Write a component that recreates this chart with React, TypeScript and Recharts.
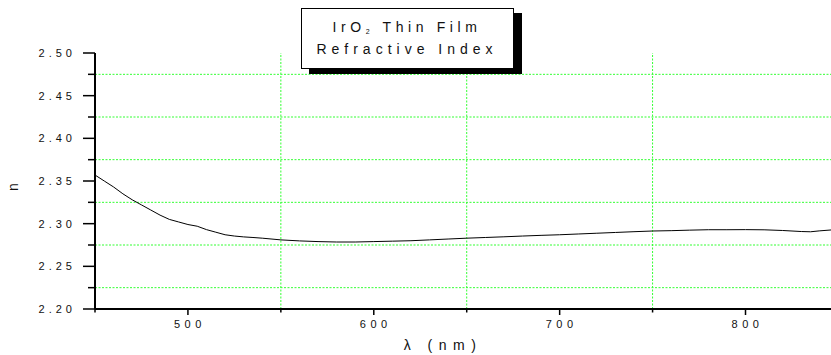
import React from 'react';
import { LineChart, Line, XAxis, YAxis, ReferenceLine } from 'recharts';

// wavelength (nm)
const wavelengths = [
  450, 455, 460, 465, 470, 475, 480, 485, 490, 495, 500, 505, 510, 515, 520, 525, 530, 535, 540,
  550, 560, 570, 580, 590, 600, 610, 620, 630, 640, 650, 660, 670, 680, 690, 700, 710, 720, 730,
  740, 750, 760, 770, 780, 790, 800, 810, 820, 830, 835, 840, 846,
];
// refractive index n
const refractiveIndex = [
  2.357, 2.35, 2.343, 2.335, 2.328, 2.322, 2.316, 2.31, 2.305, 2.302, 2.299, 2.297, 2.293, 2.29,
  2.287, 2.2855, 2.2845, 2.2838, 2.283, 2.281, 2.2798, 2.279, 2.2785, 2.2785, 2.279, 2.2795, 2.28,
  2.281, 2.282, 2.283, 2.2838, 2.2846, 2.2855, 2.2863, 2.287, 2.2879, 2.2888, 2.2897, 2.2906,
  2.2914, 2.2918, 2.2924, 2.2929, 2.2929, 2.293, 2.2928, 2.292, 2.2908, 2.2905, 2.2916, 2.2926,
];

const xTicks = [450, 500, 550, 600, 650, 700, 750, 800];
const xMajorTicks = [500, 600, 700, 800];
const yTicks = [2.2, 2.225, 2.25, 2.275, 2.3, 2.325, 2.35, 2.375, 2.4, 2.425, 2.45, 2.475, 2.5];
const yMajorTicks = [2.2, 2.25, 2.3, 2.35, 2.4, 2.45, 2.5];
const xGridValues = [550, 650, 750];
const yGridValues = [2.225, 2.275, 2.325, 2.375, 2.425, 2.475];

const data = wavelengths.map((w, i) => ({ w, n: refractiveIndex[i] }));

const FONT = '"Liberation Sans", Arial, Helvetica, sans-serif';
const GRID = '#33ff33';

const isMajorY = (v: number) => yMajorTicks.some((m) => Math.abs(m - v) < 1e-6);
const isMajorX = (v: number) => xMajorTicks.includes(v);

const YTick = (props: any) => {
  const { x, y, payload } = props;
  const v = payload.value as number;
  const major = isMajorY(v);
  return (
    <g>
      <line x1={x - (major ? 12 : 7)} x2={x} y1={y} y2={y} stroke="#000" strokeWidth={1.5} />
      {major && (
        <text
          x={x - 19}
          y={y + 4}
          textAnchor="end"
          fontFamily={FONT}
          fontSize={11}
          fill="#111"
          style={{ letterSpacing: 4 }}
        >
          {v.toFixed(2)}
        </text>
      )}
    </g>
  );
};

const XTick = (props: any) => {
  const { x, y, payload } = props;
  const v = payload.value as number;
  const major = isMajorX(v);
  return (
    <g>
      <line x1={x} x2={x} y1={y} y2={y + (major ? 6 : 3.5)} stroke="#000" strokeWidth={1.5} />
      {major && (
        <text
          x={x + 2}
          y={y + 19}
          textAnchor="middle"
          fontFamily={FONT}
          fontSize={11}
          fill="#111"
          style={{ letterSpacing: 4.5 }}
        >
          {v}
        </text>
      )}
    </g>
  );
};

export default function App() {
  return (
    <div style={{ position: 'absolute', left: 0, top: 0, width: 831, height: 355, background: '#fff' }}>
      <LineChart width={831} height={355} data={data} margin={{ top: 53, right: 0, bottom: 0, left: 0 }}>
        {yGridValues.map((v) => (
          <ReferenceLine key={'y' + v} y={v} stroke={GRID} strokeDasharray="2 1.5" strokeWidth={1} />
        ))}
        {xGridValues.map((v) => (
          <ReferenceLine key={'x' + v} x={v} stroke={GRID} strokeDasharray="2 1.5" strokeWidth={1} />
        ))}
        <XAxis
          dataKey="w"
          type="number"
          domain={[450, 846]}
          ticks={xTicks}
          interval={0}
          allowDataOverflow
          height={46}
          tickSize={0}
          tickMargin={0}
          tickLine={false}
          axisLine={{ stroke: '#000', strokeWidth: 2 }}
          tick={(p: any) => <XTick {...p} />}
        />
        <YAxis
          type="number"
          domain={[2.2, 2.5]}
          ticks={yTicks}
          interval={0}
          allowDataOverflow
          width={95}
          tickSize={0}
          tickMargin={0}
          tickLine={false}
          axisLine={{ stroke: '#000', strokeWidth: 2 }}
          tick={(p: any) => <YTick {...p} />}
        />
        <Line
          dataKey="n"
          type="linear"
          stroke="#000"
          strokeWidth={1}
          dot={false}
          activeDot={false}
          isAnimationActive={false}
        />
      </LineChart>
      <svg
        width={831}
        height={355}
        style={{ position: 'absolute', left: 0, top: 0, pointerEvents: 'none' }}
      >
        <rect x={309} y={13} width={213} height={61} fill="#000" />
        <rect x={301.5} y={8.5} width={212} height={60} fill="#fff" stroke="#000" strokeWidth={1} />
        <text
          x={407}
          y={32}
          textAnchor="middle"
          fontFamily={FONT}
          fontSize={14}
          fill="#111"
          style={{ letterSpacing: 4.6 }}
        >
          IrO
          <tspan fontSize={7} dy={2}>
            2
          </tspan>
          <tspan dy={-2}> Thin Film</tspan>
        </text>
        <text
          x={407}
          y={54}
          textAnchor="middle"
          fontFamily={FONT}
          fontSize={14}
          fill="#111"
          style={{ letterSpacing: 5 }}
        >
          Refractive Index
        </text>
        <text
          x={0}
          y={0}
          transform="translate(18 187) rotate(-90)"
          textAnchor="middle"
          fontFamily={FONT}
          fontSize={14}
          fill="#111"
        >
          n
        </text>
        <text
          x={443}
          y={350}
          textAnchor="middle"
          fontFamily={FONT}
          fontSize={14}
          fill="#111"
          style={{ letterSpacing: 6.5 }}
        >
          λ (nm)
        </text>
      </svg>
    </div>
  );
}
